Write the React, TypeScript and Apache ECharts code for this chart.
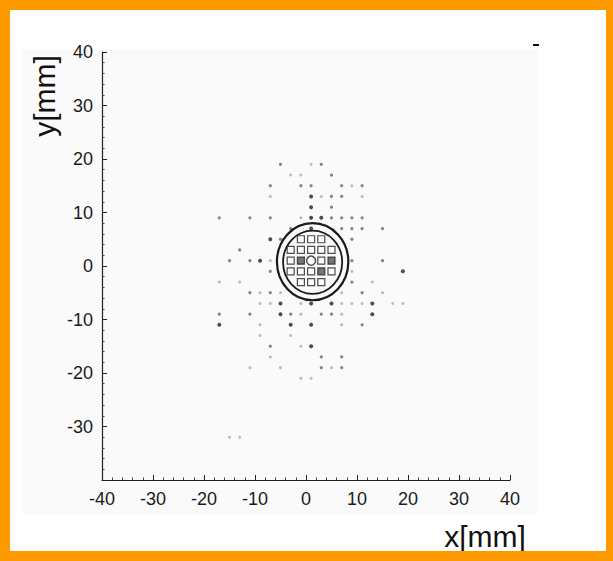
import React, { useEffect, useRef } from 'react';
import * as echarts from 'echarts';

// Axis ranges (mm)
const xRange = [-40, 40];
const yRange = [-40, 40];
const tickStep = 10;
const hiddenYLabels = [-40];

// Scatter points [x mm, y mm]
const darkDots: number[][] = [
  [1, 13], [1, 11], [1, 9], [3, 9], [1, 7], [-7, 5], [-9, 1], [19, -1],
  [-5, -7], [1, -7], [5, -7], [13, -7], [-5, -9], [13, -9], [-17, -11],
  [-3, -11], [1, -11], [1, -15],
];
const mediumDots: number[][] = [
  [-5, 19], [3, 19], [5, 17], [-7, 15], [-1, 15], [1, 15], [7, 15], [11, 15],
  [5, 13], [7, 13], [5, 11], [-17, 9], [-11, 9], [-7, 9], [5, 9], [7, 9],
  [9, 9], [11, 9], [-3, 7], [7, 7], [9, 7], [11, 7], [15, 7], [-5, 5], [9, 5],
  [-13, 3], [-15, 1], [-11, 1], [9, 1], [15, 1], [-7, -1], [9, -3], [-11, -5],
  [-7, -5], [11, -5], [-17, -9], [-11, -9], [-3, -9], [3, -9], [5, -9],
  [11, -11], [-7, -15], [3, -17], [7, -17], [3, -19], [7, -19],
];
const faintDots: number[][] = [
  [1, 19], [-3, 17], [-1, 17], [9, 15], [-7, 13], [3, 13], [11, 13], [-1, 9],
  [-7, 1], [9, -1], [-17, -3], [-13, -3], [13, -3], [-9, -5], [-5, -5], [7, -5],
  [15, -5], [-9, -7], [-7, -7], [-1, -7], [7, -7], [9, -7], [11, -7], [17, -7],
  [19, -7], [-1, -9], [7, -9], [-9, -11], [7, -11], [-9, -13], [-3, -13],
  [-1, -15], [-7, -17], [-11, -19], [-5, -19], [5, -19], [-1, -21], [1, -21],
  [-15, -32], [-13, -32],
];

// Central cells (open squares) and darker cells
const squareCells: number[][] = [
  [-1, 5], [1, 5], [3, 5],
  [-3, 3], [-1, 3], [1, 3], [3, 3], [5, 3],
  [-3, 1], [3, 1],
  [-3, -1], [-1, -1], [1, -1], [5, -1],
  [-1, -3], [1, -3], [3, -3],
];
const filledCells: number[][] = [
  [-1, 1], [5, 1], [3, -1],
];
const centerMark: number[][] = [[1, 1]];

// Rings: [cx, cy, rx, ry] in mm
const rings: number[][] = [
  [1.3, 0.8, 7.0, 7.2],
  [1.3, 0.7, 5.8, 5.9],
];

const FONT = 'Liberation Sans, Arial, sans-serif';

export default function App() {
  const ref = useRef<HTMLDivElement>(null);

  useEffect(() => {
    if (!ref.current) return;
    const chart = echarts.init(ref.current, null, { renderer: 'svg' });

    const axisCommon = {
      type: 'value' as const,
      interval: tickStep,
      axisLine: { show: true, onZero: false, lineStyle: { color: '#222', width: 1.2 } },
      axisTick: { show: true, inside: true, length: 5, lineStyle: { color: '#222', width: 1 } },
      minorTick: { show: true, splitNumber: 5, length: 2.5, lineStyle: { color: '#444', width: 1 } },
      splitLine: { show: false },
      axisLabel: { color: '#1a1a1a', fontSize: 18, fontFamily: FONT },
    };

    chart.setOption({
      animation: false,
      backgroundColor: '#ffffff',
      grid: { left: 102, right: 103, top: 52, bottom: 81, containLabel: false },
      xAxis: { ...axisCommon, min: xRange[0], max: xRange[1], axisLabel: { ...axisCommon.axisLabel, margin: 10 } },
      yAxis: {
        ...axisCommon, min: yRange[0], max: yRange[1],
        axisLabel: {
          ...axisCommon.axisLabel, margin: 9,
          formatter: (v: number) => (hiddenYLabels.includes(v) ? '' : String(v)),
        },
      },
      graphic: [
        { type: 'rect', z: -10, shape: { x: 23, y: 49, width: 514, height: 466 }, style: { fill: '#fafafa' }, silent: true },
        { type: 'rect', z: 10, shape: { x: 0, y: 0, width: 613, height: 10 }, style: { fill: '#ff9900' } },
        { type: 'rect', z: 10, shape: { x: 0, y: 0, width: 10, height: 561 }, style: { fill: '#ff9900' } },
        { type: 'rect', z: 10, shape: { x: 606, y: 0, width: 7, height: 561 }, style: { fill: '#ff9900' } },
        { type: 'rect', z: 10, shape: { x: 0, y: 551, width: 613, height: 10 }, style: { fill: '#ff9900' } },
        { type: 'line', shape: { x1: 533, y1: 45, x2: 539, y2: 45 }, style: { stroke: '#111', lineWidth: 2 } },
        {
          type: 'text', x: 44, y: 96, rotation: Math.PI / 2,
          style: { text: 'y[mm]', fontSize: 30, fontFamily: FONT, fill: '#111', align: 'center', verticalAlign: 'middle' },
        },
        {
          type: 'text', x: 485, y: 536,
          style: { text: 'x[mm]', fontSize: 30, fontFamily: FONT, fill: '#111', align: 'center', verticalAlign: 'middle' },
        },
      ],
      series: [
        {
          type: 'scatter', data: faintDots, symbol: 'circle', symbolSize: 3,
          itemStyle: { color: '#aaaaaa' }, silent: true, z: 2,
        },
        {
          type: 'scatter', data: mediumDots, symbol: 'circle', symbolSize: 3.2,
          itemStyle: { color: '#666666' }, silent: true, z: 2,
        },
        {
          type: 'scatter', data: darkDots, symbol: 'circle', symbolSize: 4,
          itemStyle: { color: '#222222' }, silent: true, z: 2,
        },
        {
          type: 'custom', data: rings, silent: true, z: 3,
          encode: { x: 0, y: 1 },
          renderItem: (params: any, api: any) => {
            const c = api.coord([api.value(0), api.value(1)]);
            const s = api.size([api.value(2), api.value(3)]);
            return {
              type: 'ellipse',
              shape: { cx: c[0], cy: c[1], rx: s[0], ry: s[1] },
              style: { fill: 'none', stroke: '#1a1a1a', lineWidth: params.dataIndex === 0 ? 2.2 : 1.8 },
            };
          },
        },
        {
          type: 'scatter', data: squareCells, symbol: 'rect', symbolSize: 7,
          itemStyle: { color: '#ffffff', borderColor: '#222', borderWidth: 1.2 }, silent: true, z: 4,
        },
        {
          type: 'scatter', data: filledCells, symbol: 'rect', symbolSize: 7,
          itemStyle: { color: '#555555', borderColor: '#222', borderWidth: 1.2 }, silent: true, z: 4,
        },
        {
          type: 'scatter', data: centerMark, symbol: 'circle', symbolSize: 9,
          itemStyle: { color: '#ffffff', borderColor: '#222', borderWidth: 1.5 }, silent: true, z: 5,
        },
      ],
    });

    return () => chart.dispose();
  }, []);

  return (
    <div style={{ position: 'fixed', left: 0, top: 0, width: 613, height: 561 }}>
      <div ref={ref} style={{ width: 613, height: 561 }} />
    </div>
  );
}
